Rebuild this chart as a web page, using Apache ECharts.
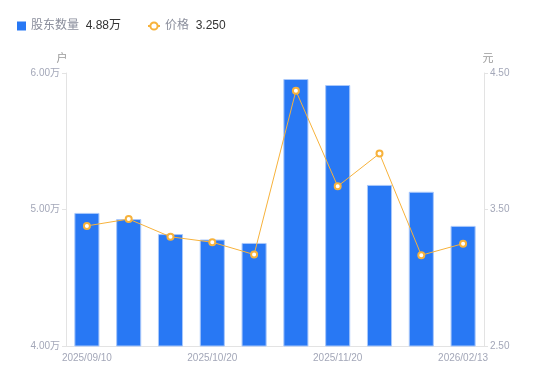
<!DOCTYPE html>
<html><head><meta charset="utf-8">
<script src="https://cdn.jsdelivr.net/npm/echarts@6/dist/echarts.min.js"></script>
<style>html,body{margin:0;padding:0;background:#fff}#c{width:550px;height:381px}</style>
</head><body><div id="c"></div>
<script>
var categories = ['2025/09/10','2025/09/19','2025/09/30','2025/10/20','2025/10/31','2025/11/10','2025/11/20','2025/12/31','2026/01/20','2026/02/13'];
var holders = [4.975, 4.93, 4.82, 4.78, 4.755, 5.956, 5.912, 5.18, 5.13, 4.88]; // 万户
var prices = [3.38, 3.43, 3.30, 3.26, 3.17, 4.37, 3.67, 3.91, 3.165, 3.25];
var leftTicks = [4, 5, 6];
var rightTicks = [2.5, 3.5, 4.5];

var chart = echarts.init(document.getElementById('c'));
var font = '"Liberation Sans", "Noto Sans CJK SC", sans-serif';
var labelColor = '#a3a7b8';
var rich = {
  a: { color: '#8a8e9c', fontSize: 12, fontFamily: font },
  b: { color: '#333', fontSize: 12, fontFamily: font }
};
chart.setOption({
  animation: false,
  textStyle: { fontFamily: font },
  legend: [
    {
      left: 12, top: 15,
      itemWidth: 9, itemHeight: 9,
      data: [{ name: '股东数量', icon: 'rect', itemStyle: { borderWidth: 0 } }],
      formatter: function (n) { return '{a|' + n + '}  {b|' + holders[holders.length - 1].toFixed(2) + '万}'; },
      textStyle: { fontFamily: font, rich: rich }
    },
    {
      left: 142, top: 15,
      itemWidth: 12, itemHeight: 9,
      data: [{ name: '价格' }],
      formatter: function (n) { return '{a|' + n + '}  {b|' + prices[prices.length - 1].toFixed(3) + '}'; },
      textStyle: { fontFamily: font, rich: rich }
    }
  ],
  grid: { left: 66, right: 66, top: 73, bottom: 35 },
  xAxis: {
    type: 'category',
    data: categories,
    axisLine: { lineStyle: { color: '#e3e3e3' } },
    axisTick: { show: false },
    axisLabel: { color: labelColor, fontSize: 10, interval: 2, margin: 7, fontFamily: font }
  },
  yAxis: [
    {
      type: 'value', min: leftTicks[0], max: leftTicks[2], interval: 1,
      name: '户', nameGap: 9,
      nameTextStyle: { color: '#999', fontSize: 11, padding: [0, 8, 0, 0] },
      axisLine: { show: true, lineStyle: { color: '#e3e3e3' } },
      axisTick: { show: true, length: 4, lineStyle: { color: '#e3e3e3' } },
      splitLine: { show: false },
      axisLabel: { color: labelColor, fontSize: 10, margin: 6, formatter: function (v) { return v.toFixed(2) + '万'; } }
    },
    {
      type: 'value', min: rightTicks[0], max: rightTicks[2], interval: 1,
      name: '元', nameGap: 9,
      nameTextStyle: { color: '#999', fontSize: 11, padding: [0, 0, 0, 8] },
      axisLine: { show: true, lineStyle: { color: '#e3e3e3' } },
      axisTick: { show: true, length: 4, lineStyle: { color: '#e3e3e3' } },
      splitLine: { show: false },
      axisLabel: { color: labelColor, fontSize: 10, margin: 6, formatter: function (v) { return v.toFixed(2); } }
    }
  ],
  series: [
    {
      name: '股东数量', type: 'bar', yAxisIndex: 0, data: holders,
      barWidth: '60%',
      itemStyle: { color: '#2878f4', borderColor: '#a9c8fb', borderWidth: 1 }
    },
    {
      name: '价格', type: 'line', yAxisIndex: 1, data: prices,
      symbol: 'circle', symbolSize: 6,
      itemStyle: { color: '#fff', borderColor: '#f7b23b', borderWidth: 2 },
      lineStyle: { color: '#f7b23b', width: 1 }
    }
  ]
});
</script></body></html>
